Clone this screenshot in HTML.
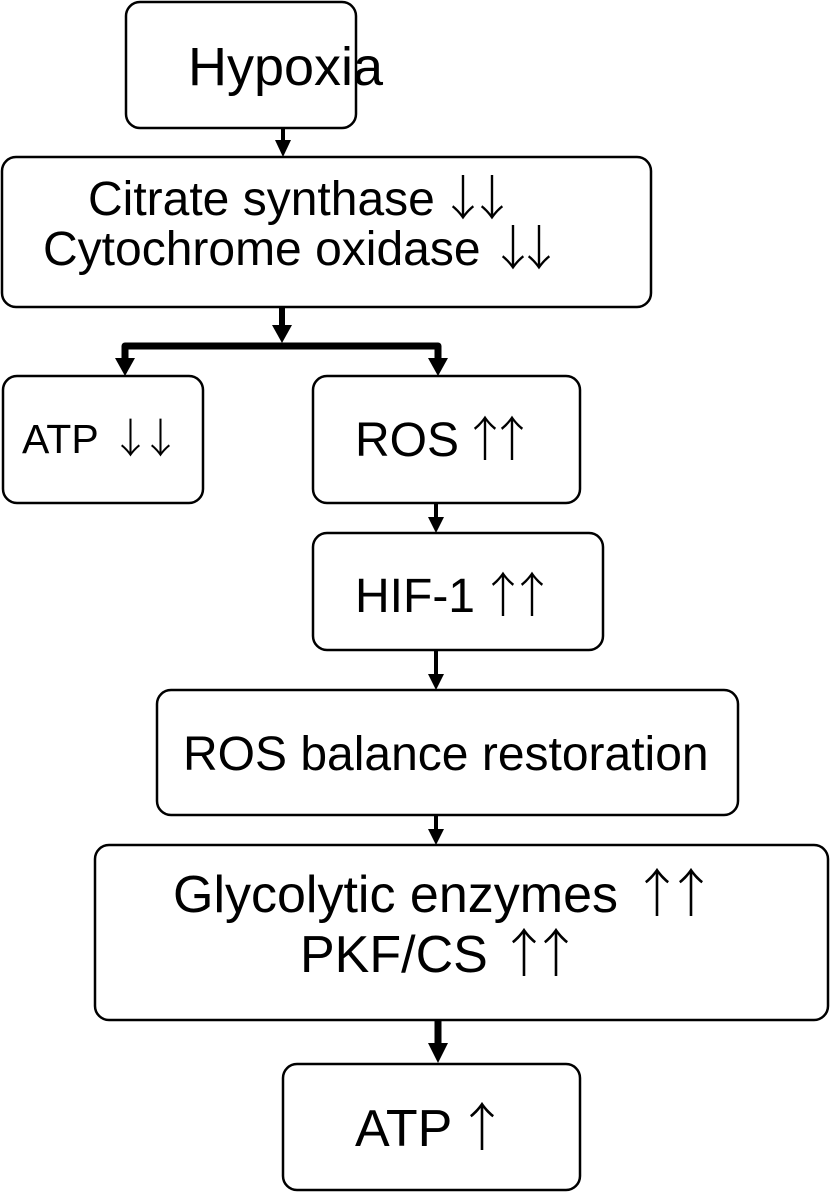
<!DOCTYPE html>
<html><head><style>
body{margin:0;background:#fff;}
svg text{font-family:"Liberation Sans",Arial,sans-serif;fill:#000;}
.a{font-family:"Noto Sans CJK JP","Liberation Sans",sans-serif;font-weight:300;}
</style></head><body>
<svg width="830" height="1193" viewBox="0 0 830 1193" xmlns="http://www.w3.org/2000/svg">
<g fill="none" stroke="#000" stroke-width="2.5">
<rect x="126" y="2" width="230" height="126" rx="14"/>
<rect x="2" y="157" width="649" height="150" rx="14"/>
<rect x="3" y="376" width="200" height="127" rx="14"/>
<rect x="313" y="376" width="267" height="127" rx="14"/>
<rect x="313" y="533" width="290" height="117" rx="14"/>
<rect x="157" y="690" width="581" height="125" rx="14"/>
<rect x="95" y="845" width="733" height="175" rx="14"/>
<rect x="283" y="1064" width="297" height="126" rx="14"/>
</g>
<g stroke="#000" fill="none">
<line x1="283" y1="128" x2="283" y2="142" stroke-width="4"/>
<line x1="282" y1="307" x2="282" y2="330" stroke-width="6"/>
<polyline points="125,362 125,346 438,346 438,362" stroke-width="7" stroke-linejoin="round"/>
<line x1="436" y1="503" x2="436" y2="520" stroke-width="4"/>
<line x1="436" y1="650" x2="436" y2="677" stroke-width="4"/>
<line x1="436" y1="815" x2="436" y2="832" stroke-width="4"/>
<line x1="438" y1="1020" x2="438" y2="1046" stroke-width="7"/>
</g>
<g fill="#000">
<polygon points="275,140 291,140 283,157"/>
<polygon points="272,325 292,325 282,343"/>
<polygon points="115,358 135,358 125,376"/>
<polygon points="428,358 448,358 438,376"/>
<polygon points="428,517 444,517 436,533"/>
<polygon points="428,674 444,674 436,690"/>
<polygon points="428,829 444,829 436,845"/>
<polygon points="428,1043 448,1043 438,1063"/>
</g>
<text x="188" y="85" font-size="54">Hypoxia</text>
<text x="88" y="215" font-size="48">Citrate synthase</text>
<text class="a" x="439" y="215" font-size="48" letter-spacing="-19">↓↓</text>
<text x="43" y="265" font-size="48">Cytochrome oxidase</text>
<text class="a" x="489" y="265" font-size="48" letter-spacing="-22">↓↓</text>
<text x="22" y="453" font-size="41">ATP</text>
<text class="a" x="110" y="453" font-size="41" letter-spacing="-11">↓↓</text>
<text x="355" y="456" font-size="48">ROS</text>
<text class="a" x="461" y="456" font-size="48" letter-spacing="-21">↑↑</text>
<text x="355" y="612" font-size="48">HIF-1</text>
<text class="a" x="479" y="612" font-size="48" letter-spacing="-19">↑↑</text>
<text x="183" y="770" font-size="48">ROS balance restoration</text>
<text x="173" y="912" font-size="52">Glycolytic enzymes</text>
<text class="a" x="631" y="912" font-size="52" letter-spacing="-18">↑↑</text>
<text x="300" y="972" font-size="52">PKF/CS</text>
<text class="a" x="498" y="972" font-size="52" letter-spacing="-20">↑↑</text>
<text x="355" y="1146" font-size="52">ATP</text>
<text class="a" x="456" y="1146" font-size="52">↑</text>
</svg>
</body></html>
